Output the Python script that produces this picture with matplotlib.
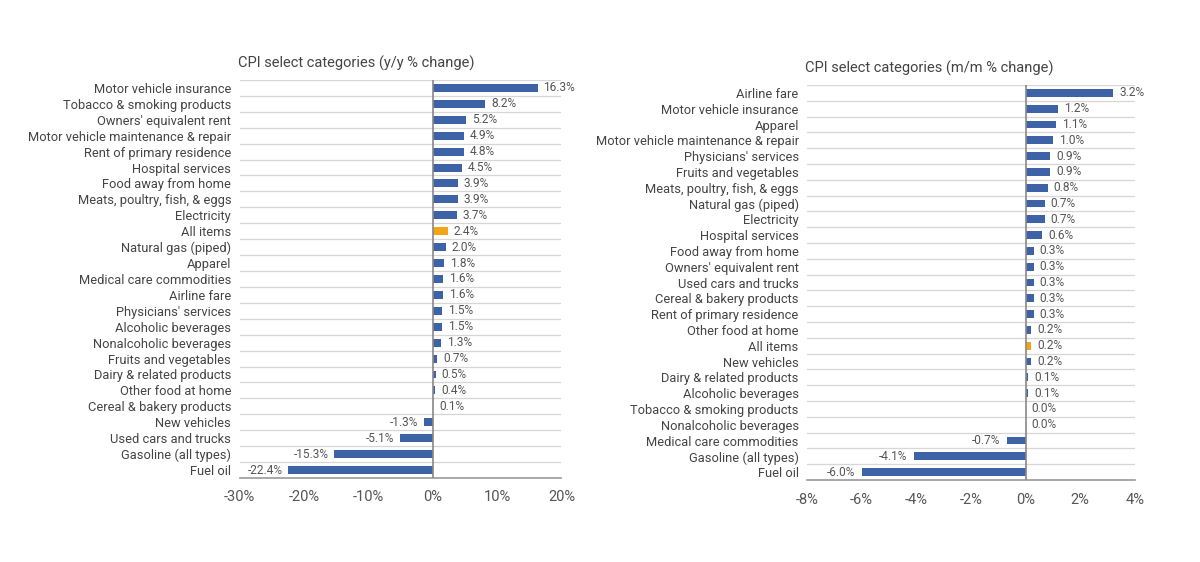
import matplotlib
matplotlib.use("Agg")
import matplotlib.pyplot as plt

plt.rcParams['font.family'] = ['Roboto', 'DejaVu Sans']

left_title = "CPI select categories (y/y % change)"
left_cats = ["Motor vehicle insurance", "Tobacco & smoking products", "Owners' equivalent rent",
             "Motor vehicle maintenance & repair", "Rent of primary residence", "Hospital services",
             "Food away from home", "Meats, poultry, fish, & eggs", "Electricity", "All items",
             "Natural gas (piped)", "Apparel", "Medical care commodities", "Airline fare",
             "Physicians' services", "Alcoholic beverages", "Nonalcoholic beverages",
             "Fruits and vegetables", "Dairy & related products", "Other food at home",
             "Cereal & bakery products", "New vehicles", "Used cars and trucks",
             "Gasoline (all types)", "Fuel oil"]
left_vals = [16.3, 8.2, 5.2, 4.9, 4.8, 4.5, 3.9, 3.9, 3.7, 2.4, 2.0, 1.8, 1.6, 1.6, 1.5, 1.5,
             1.3, 0.7, 0.5, 0.4, 0.1, -1.3, -5.1, -15.3, -22.4]
left_ticks = [-30, -20, -10, 0, 10, 20]

right_title = "CPI select categories (m/m % change)"
right_cats = ["Airline fare", "Motor vehicle insurance", "Apparel", "Motor vehicle maintenance & repair",
              "Physicians' services", "Fruits and vegetables", "Meats, poultry, fish, & eggs",
              "Natural gas (piped)", "Electricity", "Hospital services", "Food away from home",
              "Owners' equivalent rent", "Used cars and trucks", "Cereal & bakery products",
              "Rent of primary residence", "Other food at home", "All items", "New vehicles",
              "Dairy & related products", "Alcoholic beverages", "Tobacco & smoking products",
              "Nonalcoholic beverages", "Medical care commodities", "Gasoline (all types)", "Fuel oil"]
right_vals = [3.2, 1.2, 1.1, 1.0, 0.9, 0.9, 0.8, 0.7, 0.7, 0.6, 0.3, 0.3, 0.3, 0.3, 0.3, 0.2,
              0.2, 0.2, 0.1, 0.1, 0.0, 0.0, -0.7, -4.1, -6.0]
right_ticks = [-8, -6, -4, -2, 0, 2, 4]

BLUE = "#3D62A6"
ORANGE = "#F2A516"
TXT = "#444444"
GRID = "#D6D6D6"

fig = plt.figure(figsize=(12, 5.62), dpi=100)


def draw(rect, title, cats, vals, ticks, off):
    ax = fig.add_axes(rect)
    n = len(cats)
    ys = list(range(n))
    colors = [ORANGE if c == "All items" else BLUE for c in cats]
    ax.barh(ys, vals, height=0.5, color=colors, zorder=3)
    ax.set_ylim(n - 0.5, -0.5)
    ax.set_xlim(ticks[0], ticks[-1])
    ax.set_yticks(ys)
    ax.set_yticklabels(cats, fontsize=9.3, color=TXT)
    ax.set_xticks(ticks)
    ax.set_xticklabels([f"{t}%" for t in ticks], fontsize=10.5, color="#555555")
    ax.tick_params(axis='both', length=0)
    ax.tick_params(axis='y', pad=6)
    ax.tick_params(axis='x', pad=9)
    for i in range(n):
        ax.axhline(i - 0.5, color=GRID, lw=0.9, zorder=1)
    ax.axvline(0, color="#888888", lw=1.2, zorder=4)
    for s in ['top', 'right', 'left']:
        ax.spines[s].set_visible(False)
    ax.spines['bottom'].set_color("#999999")
    ax.spines['bottom'].set_linewidth(1.2)
    for y, v in zip(ys, vals):
        lab = f"{v:.1f}%"
        if v < 0:
            ax.text(v - off, y, lab, ha='right', va='center', fontsize=8.6, color="#555555", zorder=5)
        else:
            ax.text(v + off, y, lab, ha='left', va='center', fontsize=8.6, color="#555555", zorder=5)
    ax.text(-0.005, 1.022, title, transform=ax.transAxes, ha='left', va='bottom',
            fontsize=10.5, color=TXT)
    return ax


draw([0.1996, 0.1495, 0.2683, 0.7082], left_title, left_cats, left_vals, left_ticks, 0.9)
draw([0.6725, 0.1459, 0.2733, 0.7028], right_title, right_cats, right_vals, right_ticks, 0.22)

fig.savefig("out.png", dpi=100, facecolor="white")
